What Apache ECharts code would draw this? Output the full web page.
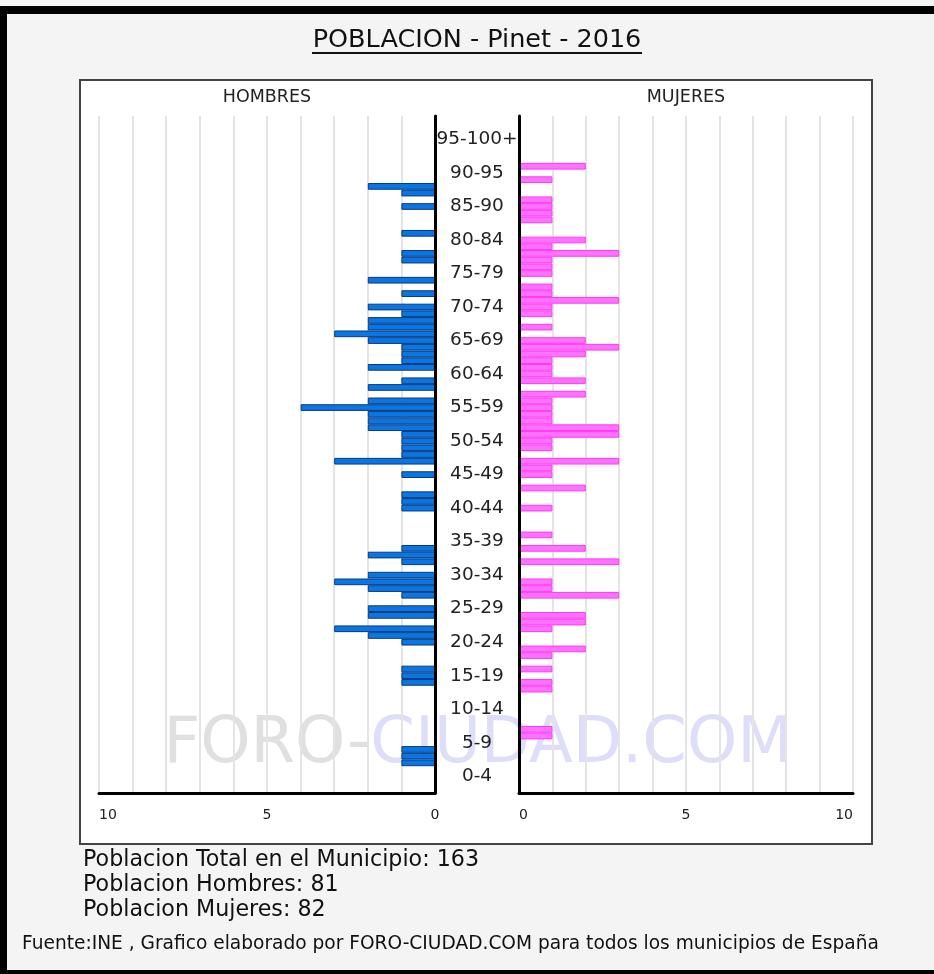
<!DOCTYPE html>
<html><head><meta charset="utf-8">
<script src="https://cdn.jsdelivr.net/npm/echarts@6/dist/echarts.min.js"></script>
<style>html,body{margin:0;padding:0;background:#f4f4f4}#c{width:934px;height:974px}</style>
</head><body><div id="c"></div>
<script>
// single-year ages 0..100
const ages = ['0','1','2','3','4','5','6','7','8','9','10','11','12','13','14','15','16','17','18','19','20','21','22','23','24','25','26','27','28','29','30','31','32','33','34','35','36','37','38','39','40','41','42','43','44','45','46','47','48','49','50','51','52','53','54','55','56','57','58','59','60','61','62','63','64','65','66','67','68','69','70','71','72','73','74','75','76','77','78','79','80','81','82','83','84','85','86','87','88','89','90','91','92','93','94','95','96','97','98','99','100'];
const groupLabels = ['0-4','5-9','10-14','15-19','20-24','25-29','30-34','35-39','40-44','45-49','50-54','55-59','60-64','65-69','70-74','75-79','80-84','85-90','90-95','95-100+'];
const hombres = [
  0,0,0,0,1, 1,1,0,0,0,
  0,0,0,0,0, 0,1,1,1,0,
  0,0,1,2,3, 0,2,2,0,1,
  2,3,2,0,1, 2,1,0,0,0,
  0,0,1,1,1, 0,0,1,0,3,
  1,1,1,1,2, 2,2,4,2,0,
  2,1,0,2,1, 1,1,2,3,2,
  2,1,2,0,1, 0,2,0,0,1,
  1,0,0,1,0, 0,0,1,0,1,
  2,0,0,0,0, 0,0,0,0,0,
  0];
const mujeres = [
  0,0,0,0,0, 0,0,0,1,1,
  0,0,0,0,0, 1,1,0,1,0,
  1,2,0,0,1, 2,2,0,0,3,
  1,1,0,0,3, 0,2,0,1,0,
  0,0,1,0,0, 2,0,1,1,3,
  0,1,1,3,3, 1,1,1,1,2,
  0,2,1,1,1, 2,3,2,0,1,
  0,1,1,3,1, 1,0,1,1,1,
  3,1,2,0,0, 1,1,1,1,0,
  0,1,0,2,0, 0,0,0,0,0,
  0];
const xTicks = [0, 5, 10];
const titleText = 'POBLACION - Pinet - 2016';
const statsLines = ['Poblacion Total en el Municipio: 163', 'Poblacion Hombres: 81', 'Poblacion Mujeres: 82'];
const footerText = 'Fuente:INE , Grafico elaborado por FORO-CIUDAD.COM para todos los municipios de España';

const FONT = 'DejaVu Sans';
const chart = echarts.init(document.getElementById('c'), null, {renderer: 'canvas'});

function xAxisCfg(idx, inverse, minAlign, maxAlign) {
  return {
    type: 'value', gridIndex: idx, min: 0, max: 10, interval: 1, inverse: inverse,
    axisLine: {show: true, onZero: false, lineStyle: {color: '#000', width: 3}},
    axisTick: {show: false},
    splitLine: {show: true, lineStyle: {color: '#e4e4e4', width: 2}},
    axisLabel: {
      color: '#222', fontFamily: FONT, fontSize: 14, margin: 15,
      formatter: v => xTicks.indexOf(v) >= 0 ? String(v) : '',
      alignMinLabel: minAlign, alignMaxLabel: maxAlign
    }
  };
}
function yAxisCfg(idx, pos) {
  return {
    type: 'category', gridIndex: idx, data: ages, position: pos, z: 4,
    axisLine: {show: true, onZero: false, lineStyle: {color: '#000', width: 3}},
    axisTick: {show: false}, axisLabel: {show: false}, splitLine: {show: false}
  };
}
// empty cells (0) are not drawn as bars
const asBars = arr => arr.map(v => (v === 0 ? '-' : v));

const option = {
  backgroundColor: '#f4f4f4',
  animation: false,
  grid: [
    {left: 99, width: 336, top: 116, height: 677},
    {left: 519, width: 334, top: 116, height: 677},
    {left: 435, width: 84, top: 116, height: 677}
  ],
  xAxis: [
    xAxisCfg(0, true, 'center', 'left'),
    xAxisCfg(1, false, 'left', 'right'),
    {type: 'value', gridIndex: 2, show: false, min: 0, max: 1}
  ],
  yAxis: [
    yAxisCfg(0, 'right'),
    yAxisCfg(1, 'left'),
    {
      type: 'category', gridIndex: 2, data: ages, position: 'left',
      axisLine: {show: false}, axisTick: {show: false}, splitLine: {show: false},
      axisLabel: {
        show: true, inside: true, margin: 42, align: 'center', interval: 0,
        color: '#222', fontFamily: FONT, fontSize: 18.5, padding: [4, 0, 0, 0],
        formatter: (v, i) => (i % 5 === 2) ? groupLabels[(i - 2) / 5] : ''
      }
    }
  ],
  series: [
    {
      type: 'bar', name: 'Hombres', xAxisIndex: 0, yAxisIndex: 0, data: asBars(hombres),
      barCategoryGap: '0%', z: 3,
      itemStyle: {color: '#0a76e6', borderColor: '#0c3a74', borderWidth: 1}
    },
    {
      type: 'bar', name: 'Mujeres', xAxisIndex: 1, yAxisIndex: 1, data: asBars(mujeres),
      barCategoryGap: '0%', z: 3,
      itemStyle: {color: '#ff72ff', borderColor: '#ff38f5', borderWidth: 1}
    }
  ],
  graphic: [
    // outer frame
    {type: 'rect', z: -20, shape: {x: 0, y: 6, width: 934, height: 8}, style: {fill: '#000'}},
    {type: 'rect', z: -20, shape: {x: 0, y: 6, width: 7, height: 968}, style: {fill: '#000'}},
    {type: 'rect', z: -20, shape: {x: 0, y: 970, width: 934, height: 4}, style: {fill: '#000'}},
    // white plot box
    {type: 'rect', z: -15, shape: {x: 80, y: 80, width: 792, height: 764}, style: {fill: '#fff', stroke: '#444', lineWidth: 2}},
    // watermark
    {type: 'text', z: -10, x: 478, y: 745, style: {
      text: '{a|FORO-}{b|CIUDAD.COM}', align: 'center', verticalAlign: 'middle',
      rich: {
        a: {fontFamily: FONT, fontSize: 64, fill: '#e0e0e0'},
        b: {fontFamily: FONT, fontSize: 64, fill: '#dedefa'}
      }
    }},
    // title
    {type: 'text', x: 477, y: 40, style: {text: titleText, align: 'center', verticalAlign: 'middle', fontFamily: FONT, fontSize: 25.5, fill: '#111'}},
    {type: 'line', shape: {x1: 312, y1: 53, x2: 642, y2: 53}, style: {stroke: '#111', lineWidth: 2}},
    // panel headings
    {type: 'text', x: 267, y: 97, style: {text: 'HOMBRES', align: 'center', verticalAlign: 'middle', fontFamily: FONT, fontSize: 17.5, fill: '#222'}},
    {type: 'text', x: 686, y: 97, style: {text: 'MUJERES', align: 'center', verticalAlign: 'middle', fontFamily: FONT, fontSize: 17.5, fill: '#222'}},
    // stats
    {type: 'text', x: 83, y: 860, style: {text: statsLines[0], verticalAlign: 'middle', fontFamily: FONT, fontSize: 22.2, fill: '#111'}},
    {type: 'text', x: 83, y: 885, style: {text: statsLines[1], verticalAlign: 'middle', fontFamily: FONT, fontSize: 22.2, fill: '#111'}},
    {type: 'text', x: 83, y: 910, style: {text: statsLines[2], verticalAlign: 'middle', fontFamily: FONT, fontSize: 22.2, fill: '#111'}},
    {type: 'text', x: 22, y: 944, style: {text: footerText, verticalAlign: 'middle', fontFamily: FONT, fontSize: 18.6, fill: '#111'}}
  ]
};
chart.setOption(option);
</script>
</body></html>
